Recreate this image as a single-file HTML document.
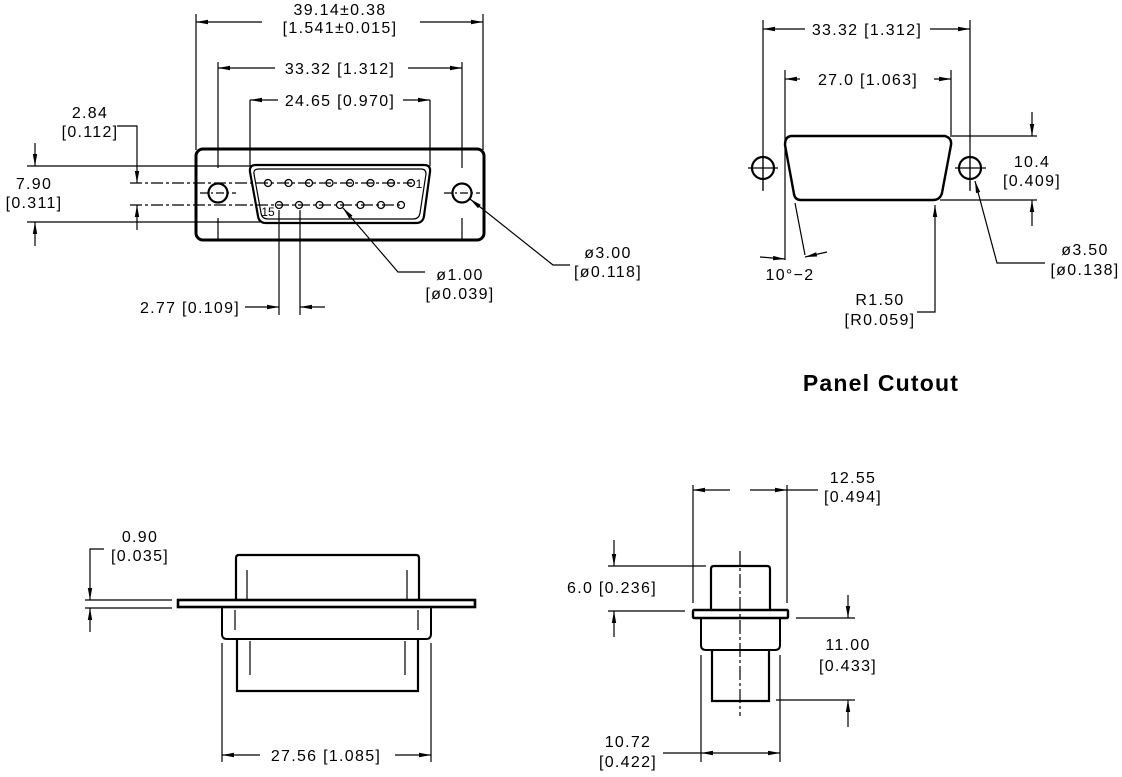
<!DOCTYPE html>
<html><head><meta charset="utf-8"><style>
html,body{margin:0;padding:0;background:#fff}
svg{display:block}
text{font-family:"Liberation Sans",sans-serif;font-size:16px;letter-spacing:1.3px;fill:#000;text-anchor:middle}
</style></head><body>
<svg width="1122" height="777" viewBox="0 0 1122 777" xmlns="http://www.w3.org/2000/svg">
<defs>
<marker id="a" viewBox="0 0 12 6" refX="12" refY="3" markerWidth="12" markerHeight="6" markerUnits="userSpaceOnUse" orient="auto"><path d="M0,0.8 L12,3 L0,5.2z" fill="#000"/></marker>
</defs>
<g stroke="#000" stroke-width="1.2" fill="none">
<!-- TOP LEFT -->
<path d="M196,14V150M483,14V150"/>
<path d="M262,22H196" marker-end="url(#a)"/><path d="M420,22H483" marker-end="url(#a)"/>
<path d="M218,62V168M218,218V240M462,62V168M462,218V240"/>
<path d="M275,68H218" marker-end="url(#a)"/><path d="M408,68H462" marker-end="url(#a)"/>
<path d="M250,100V166M430,100V166"/>
<path d="M278,100H250" marker-end="url(#a)"/><path d="M403,100H430" marker-end="url(#a)"/>
<rect x="196" y="149" width="288" height="91" rx="7" stroke-width="3"/>
<path d="M256,165H424Q431,165 430,172L424,216Q423,223 416,223H266Q259,223 258,216L250,172Q249,165 256,165Z" stroke-width="2.2"/>
<path d="M259,169H421Q426,169 426,174L420,213Q419,219 413,219H268Q262,219 261,213L254,174Q253,169 259,169Z" stroke-width="1.2"/>
<circle cx="218" cy="193" r="9.5" stroke-width="2.2"/>
<circle cx="462" cy="193" r="9.5" stroke-width="2.2"/>
<path d="M200,193H236M444,193H480" stroke-dasharray="8,3,2,3"/>
<path d="M130,183H412M130,205H402" stroke-dasharray="12,3,3,3"/>
<g stroke-width="1.3">
<circle cx="268" cy="183" r="3.5"/><circle cx="288.5" cy="183" r="3.5"/><circle cx="309" cy="183" r="3.5"/><circle cx="329.5" cy="183" r="3.5"/><circle cx="350" cy="183" r="3.5"/><circle cx="370.5" cy="183" r="3.5"/><circle cx="391" cy="183" r="3.5"/><circle cx="411" cy="183" r="3.5"/>
<circle cx="279" cy="205" r="3.5"/><circle cx="299" cy="205" r="3.5"/><circle cx="319.5" cy="205" r="3.5"/><circle cx="340" cy="205" r="3.5"/><circle cx="360.5" cy="205" r="3.5"/><circle cx="381" cy="205" r="3.5"/><circle cx="401" cy="205" r="3.5"/>
</g>
<path d="M27,166H252M27,222H260"/>
<path d="M35,143V166" marker-end="url(#a)"/><path d="M35,246V222" marker-end="url(#a)"/>
<path d="M117,126H137V183" marker-end="url(#a)"/><path d="M137,230V205" marker-end="url(#a)"/>
<path d="M279,210V315M300,210V315"/>
<path d="M245,307H279" marker-end="url(#a)"/><path d="M325,307H300" marker-end="url(#a)"/>
<path d="M425,272H398L343,208" marker-end="url(#a)"/>
<path d="M570,265H553L470,199" marker-end="url(#a)"/>
<!-- TOP RIGHT -->
<path d="M763,20V190M970,20V190"/>
<path d="M805,29H763" marker-end="url(#a)"/><path d="M930,29H970" marker-end="url(#a)"/>
<path d="M785,70V150M951,70V135"/>
<path d="M800,79H785" marker-end="url(#a)"/><path d="M934,79H951" marker-end="url(#a)"/>
<path d="M792,136H945Q952,138 951,145L942,193Q940,200 933,200H801Q795,200 794,194L785,145Q785,136 792,136Z" stroke-width="2.4"/>
<path d="M785,150V260"/>
<circle cx="763" cy="168" r="11" stroke-width="2.2"/>
<circle cx="970" cy="168" r="11" stroke-width="2.2"/>
<path d="M748,168H778M955,168H986M763,155V191M970,155V191"/>
<path d="M950,136H1037M940,200H1037"/>
<path d="M1032,112V136" marker-end="url(#a)"/><path d="M1032,226V200" marker-end="url(#a)"/>
<path d="M1045,263H997L975,181" marker-end="url(#a)"/>
<path d="M917,312H935V205" marker-end="url(#a)"/>
<path d="M795,203L805,255"/>
<path d="M760,257L785,259" marker-end="url(#a)"/><path d="M827,252L805,257" marker-end="url(#a)"/>
<!-- BOTTOM LEFT -->
<path d="M236,601V558Q236,555 239,555H416Q419,555 419,558V601" stroke-width="2.2"/>
<path d="M247,570V601M407,570V601"/>
<rect x="178" y="600" width="297" height="7" stroke-width="2.6"/>
<path d="M222,607V634Q222,639 227,639H426Q431,639 431,634V607" stroke-width="2"/>
<path d="M235,610V630M418,610V630"/>
<path d="M237,639V691H418V639" stroke-width="2.2"/>
<path d="M250,641V675M405,641V675"/>
<path d="M85,600H172M85,608H172"/>
<path d="M104,549H90V600" marker-end="url(#a)"/><path d="M90,632V608" marker-end="url(#a)"/>
<path d="M222,643V762M431,643V762"/>
<path d="M260,755H222" marker-end="url(#a)"/><path d="M395,755H431" marker-end="url(#a)"/>
<!-- BOTTOM RIGHT -->
<path d="M711,609V569Q711,566 714,566H767Q770,566 770,569V609" stroke-width="2.2"/>
<rect x="693" y="610" width="95" height="8" rx="1" stroke-width="2.4"/>
<path d="M701,618V645Q701,650 706,650H775Q780,650 780,645V618" stroke-width="2"/>
<path d="M712,650V701H769V650" stroke-width="2.2"/>
<path d="M740,551V716" stroke-dasharray="14,3,3,3"/>
<path d="M693,485V603M787,485V603"/>
<path d="M730,490H693" marker-end="url(#a)"/><path d="M750,490H787" marker-end="url(#a)"/><path d="M787,490H818"/>
<path d="M608,566H706M608,611H685"/>
<path d="M614,540V566" marker-end="url(#a)"/><path d="M614,637V611" marker-end="url(#a)"/>
<path d="M796,618H855M776,700H855"/>
<path d="M848,595V618" marker-end="url(#a)"/><path d="M848,727V700" marker-end="url(#a)"/>
<path d="M701,655V762M780,655V762"/>
<path d="M663,753H701"/>
<path d="M740,753H701" marker-end="url(#a)"/><path d="M740,753H780" marker-end="url(#a)"/>
</g>
<g>
<text x="340" y="15">39.14±0.38</text>
<text x="340" y="33">[1.541±0.015]</text>
<text x="340" y="74">33.32 [1.312]</text>
<text x="340" y="106">24.65 [0.970]</text>
<text x="90" y="118">2.84</text>
<text x="90" y="137">[0.112]</text>
<text x="34" y="189">7.90</text>
<text x="34" y="208">[0.311]</text>
<text x="419" y="188" style="font-size:12px;letter-spacing:0">1</text>
<text x="268" y="216" style="font-size:12px;letter-spacing:0">15</text>
<text x="190" y="313">2.77 [0.109]</text>
<text x="460" y="280">ø1.00</text>
<text x="460" y="299">[ø0.039]</text>
<text x="608" y="258">ø3.00</text>
<text x="608" y="277">[ø0.118]</text>
<text x="867" y="35">33.32 [1.312]</text>
<text x="868" y="85">27.0 [1.063]</text>
<text x="1032" y="167">10.4</text>
<text x="1032" y="186">[0.409]</text>
<text x="1085" y="255">ø3.50</text>
<text x="1085" y="275">[ø0.138]</text>
<text x="790" y="280">10°−2</text>
<text x="880" y="305">R1.50</text>
<text x="880" y="325">[R0.059]</text>
<text x="881" y="391" style="font-size:23px;font-weight:bold;letter-spacing:1.2px">Panel Cutout</text>
<text x="140" y="542">0.90</text>
<text x="140" y="561">[0.035]</text>
<text x="326" y="761">27.56 [1.085]</text>
<text x="853" y="483">12.55</text>
<text x="853" y="502">[0.494]</text>
<text x="612" y="593">6.0 [0.236]</text>
<text x="848" y="650">11.00</text>
<text x="848" y="671">[0.433]</text>
<text x="628" y="747">10.72</text>
<text x="628" y="767">[0.422]</text>
</g>
</svg>
</body></html>
